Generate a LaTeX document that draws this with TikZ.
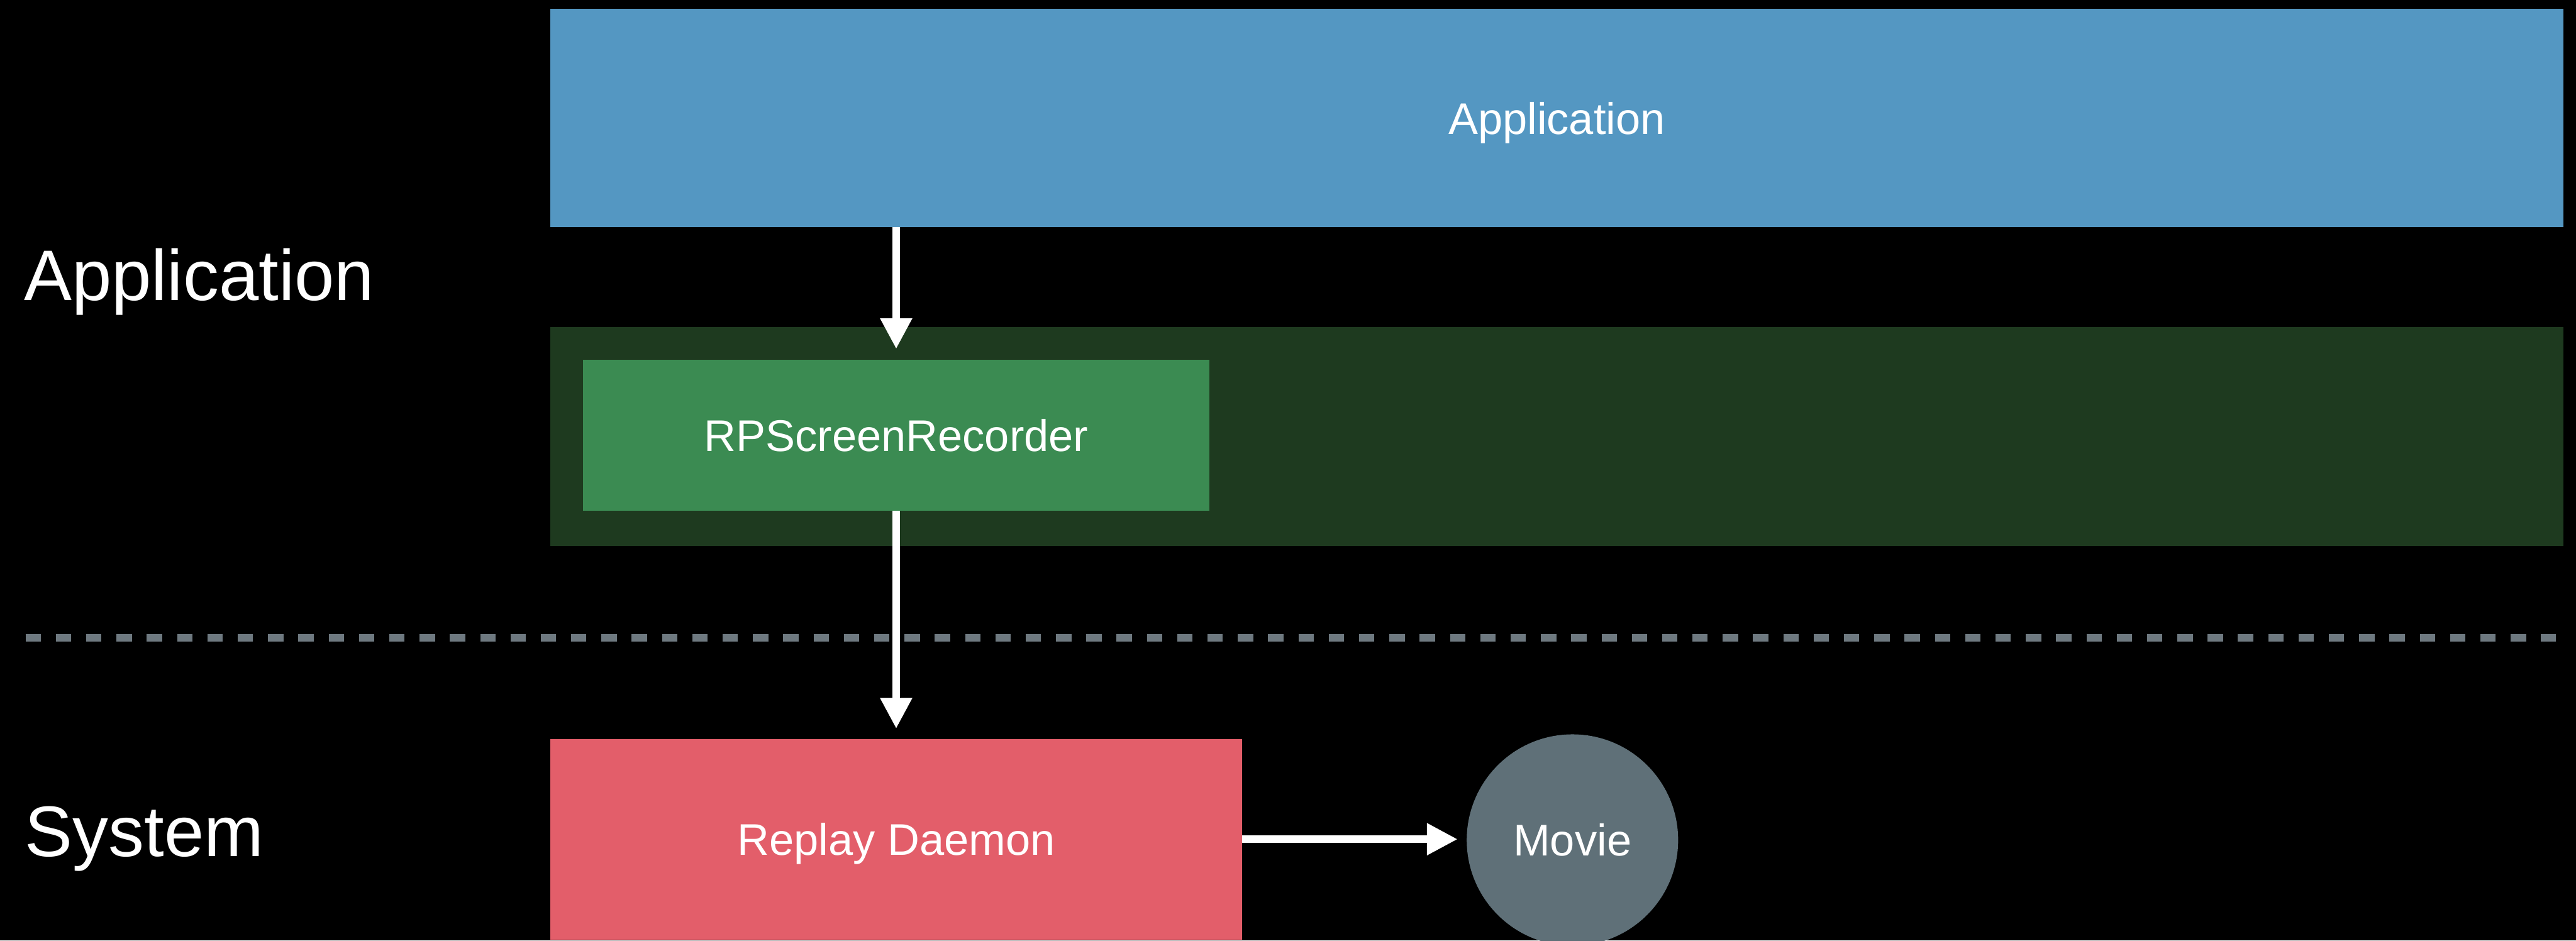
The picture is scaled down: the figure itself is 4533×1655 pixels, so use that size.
\documentclass[tikz,border=0pt]{standalone}
\usepackage{fontspec}
\setmainfont{Liberation Sans}
\usetikzlibrary{arrows.meta}

\definecolor{appblue}{RGB}{84,151,194}
\definecolor{frameworkbg}{RGB}{30,58,31}
\definecolor{recordergreen}{RGB}{59,139,82}
\definecolor{daemonred}{RGB}{227,94,106}
\definecolor{moviegray}{RGB}{95,112,120}
\definecolor{dividergray}{RGB}{110,121,128}

\newcommand\diagboxfont{\fontsize{78pt}{94pt}\selectfont}
\newcommand\diaglayerfont{\fontsize{126pt}{150pt}\selectfont}

\begin{document}
\begin{tikzpicture}[x=1pt, y=-1pt,
  box/.style={rectangle, inner sep=0pt, outer sep=0pt, text=white,
    font=\diagboxfont, text height=56pt, text depth=0pt},
  layer/.style={anchor=base west, inner sep=0pt, text=white, font=\diaglayerfont},
  flow/.style={draw=white, line width=13pt, -{Triangle[length=54pt, width=53pt]}},
  divider/.style={draw=dividergray, line width=13pt, dash pattern=on 27pt off 26.33pt}]

  % canvas
  \useasboundingbox (0,0) rectangle (4533,1655);
  \fill[black] (0,0) rectangle (4533,1655);
  \clip (0,0) rectangle (4533,1655);

  % application layer
  \node[box, fill=appblue, minimum width=3543pt, minimum height=384pt]
    (app) at (2739.5,208) {Application};
  \node[box, fill=frameworkbg, minimum width=3543pt, minimum height=386pt]
    (band) at (2739.5,768) {};
  \node[box, fill=recordergreen, minimum width=1102pt, minimum height=266pt]
    (rp) at (1577,766) {RPScreenRecorder};

  % system layer
  \node[box, fill=daemonred, minimum width=1218pt, minimum height=353pt]
    (daemon) at (1577,1476.5) {Replay Daemon};
  \node[box, circle, fill=moviegray, minimum size=372pt]
    (movie) at (2767,1478) {Movie};

  % layer titles
  \node[layer] (lblapp) at (42,528) {Application};
  \node[layer] (lblsys) at (44,1507) {System};

  % boundary between application and system
  \coordinate (divL) at (45,1122);
  \coordinate (divR) at (4498,1122);
  \draw[divider] (divL) -- (divR);

  % data flow
  \draw[flow, shorten >=19pt] (app.south -| rp.north) -- (rp.north);
  \draw[flow, shorten >=18pt] (rp.south) -- (daemon.north);
  \draw[flow, shorten >=16pt] (daemon.east) -- (daemon.east -| movie.west);
\end{tikzpicture}
\end{document}
